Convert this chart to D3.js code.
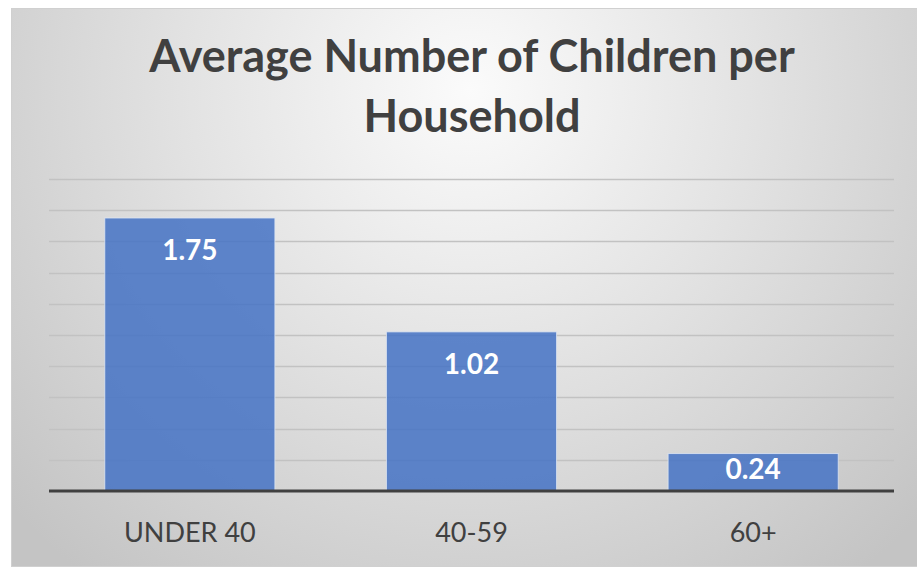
<!DOCTYPE html>
<html><head><meta charset="utf-8">
<script src="https://cdn.jsdelivr.net/npm/d3@7"></script>
<style>html,body{margin:0;padding:0;background:#fff;}svg{display:block;}</style>
</head><body>
<svg id="chart" width="917" height="570"></svg>
<script>
const categories = ["UNDER 40", "40-59", "60+"];
const values = [1.75, 1.02, 0.24];
const valueLabels = ["1.75", "1.02", "0.24"];
const gridTicks = [0, 0.2, 0.4, 0.6, 0.8, 1.0, 1.2, 1.4, 1.6, 1.8, 2.0];
const titleLines = ["Average Number of Children per", "Household"];

const svg = d3.select("#chart");
const font = "Lato, 'Open Sans', sans-serif";

const defs = svg.append("defs");
const rg = defs.append("radialGradient").attr("id", "bg")
  .attr("gradientUnits", "userSpaceOnUse")
  .attr("cx", 470).attr("cy", 90).attr("r", 620);
rg.append("stop").attr("offset", "0").attr("stop-color", "#fbfbfb");
rg.append("stop").attr("offset", "0.45").attr("stop-color", "#e3e3e3");
rg.append("stop").attr("offset", "1").attr("stop-color", "#c4c4c4");

svg.append("rect").attr("x", 11.5).attr("y", 8.5).attr("width", 920).attr("height", 558)
  .attr("fill", "url(#bg)").attr("stroke", "#d0d0d0").attr("stroke-width", 1);

const plot = {left: 49, right: 894, top: 179, bottom: 491};

const x = d3.scaleBand().domain(categories).range([plot.left, plot.right])
  .paddingInner(0.396).paddingOuter(0.198);
const y = d3.scaleLinear().domain([0, 2.0]).range([plot.bottom, plot.top]);

// gridlines
svg.append("g").selectAll("line").data(gridTicks.filter(d => d > 0)).join("line")
  .attr("x1", plot.left).attr("x2", plot.right)
  .attr("y1", d => Math.round(y(d)) + 0.5).attr("y2", d => Math.round(y(d)) + 0.5)
  .attr("stroke", "#c2c2c2").attr("stroke-width", 1.5);

// bars
svg.append("g").selectAll("rect").data(values).join("rect")
  .attr("x", (d, i) => x(categories[i]))
  .attr("width", x.bandwidth())
  .attr("y", d => y(d))
  .attr("height", d => y(0) - y(d))
  .attr("fill", "#4472c4").attr("fill-opacity", 0.85)
  .attr("stroke", "#dfe6f3").attr("stroke-opacity", 0.8).attr("stroke-width", 1);

// baseline
svg.append("line").attr("x1", plot.left).attr("x2", plot.right)
  .attr("y1", y(0)).attr("y2", y(0))
  .attr("stroke", "#404040").attr("stroke-width", 3);

// value labels (inside end, kept inside the bar)
svg.append("g").selectAll("text").data(values).join("text")
  .attr("x", (d, i) => x(categories[i]) + x.bandwidth() / 2)
  .attr("y", d => Math.min(y(d) + 32, y(0) - 22))
  .attr("dy", "0.35em")
  .attr("text-anchor", "middle")
  .attr("font-family", font).attr("font-weight", "bold").attr("font-size", 28)
  .attr("fill", "#ffffff")
  .text((d, i) => valueLabels[i]);

// category labels
const xAxis = d3.axisBottom(x).tickSize(0).tickPadding(0);
const gx = svg.append("g").attr("transform", `translate(0,${plot.bottom})`).call(xAxis);
gx.select(".domain").remove();
gx.selectAll("text").attr("y", 42).attr("dy", "0.35em")
  .attr("font-family", font).attr("font-size", 27).attr("fill", "#404040");

// title
svg.append("g").selectAll("text").data(titleLines).join("text")
  .attr("x", 472).attr("y", (d, i) => 72 + i * 60)
  .attr("text-anchor", "middle")
  .attr("font-family", font).attr("font-weight", "bold").attr("font-size", 45)
  .attr("fill", "#404040")
  .text(d => d);
</script>
</body></html>
